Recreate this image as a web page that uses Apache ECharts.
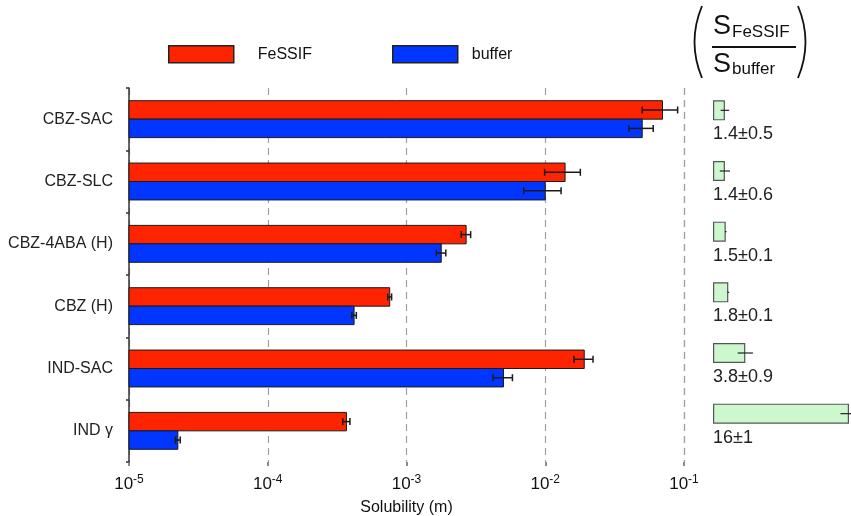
<!DOCTYPE html>
<html>
<head>
<meta charset="utf-8">
<script src="https://cdn.jsdelivr.net/npm/echarts@6/dist/echarts.min.js"></script>
<style>
  html, body { margin: 0; padding: 0; background: #fff; }
  #chart { width: 851px; height: 516px; }
</style>
</head>
<body>
<div id="chart"></div>
<script>
// Solubility of carbamazepine / indomethacin forms in FeSSIF and buffer
const categories = ['CBZ-SAC', 'CBZ-SLC', 'CBZ-4ABA (H)', 'CBZ (H)', 'IND-SAC', 'IND γ'];
const fessif     = [0.070, 0.0139, 0.00269, 0.000757, 0.0191, 0.000369];
const fessifErr  = [0.020, 0.0040, 0.00021, 0.000024, 0.0030, 0.000022];
const buffer     = [0.050, 0.0100, 0.00178, 0.000419, 0.0050, 0.0000225];
const bufferErr  = [0.010, 0.0030, 0.00014, 0.000016, 0.0008, 0.0000009];
// ratio S_FeSSIF / S_buffer
const ratio      = [1.4, 1.4, 1.5, 1.8, 3.8, 16];
const ratioErr   = [0.5, 0.6, 0.1, 0.1, 0.9, 1];
const decadeExponents = [-5, -4, -3, -2, -1];

const FONT = 'Liberation Sans, Arial, Helvetica, sans-serif';
const RED = '#ff2400';
const BLUE = '#0036ff';
const X_MIN = Math.pow(10, decadeExponents[0]);
const X_MAX = Math.pow(10, decadeExponents[decadeExponents.length - 1]);

// one bar of a pair plus its error bar; side -1 = upper bar, +1 = lower bar
function solubilityItem(side, fill) {
  return function (params, api) {
    const idx = api.value(0);
    const v = api.value(1);
    const e = api.value(2);
    const base = api.coord([X_MIN, idx]);
    const end = api.coord([v, idx]);
    const lo = api.coord([v - e, idx]);
    const hi = api.coord([v + e, idx]);
    const bw = api.size([0, 1])[1] * 0.296;
    const y0 = side < 0 ? end[1] - bw : end[1];
    const yc = y0 + bw / 2;
    const cap = 3.5;
    const errStyle = { stroke: '#1a1a1a', lineWidth: 1.5 };
    return {
      type: 'group',
      children: [
        { type: 'rect', shape: { x: base[0], y: y0, width: end[0] - base[0], height: bw },
          style: { fill: fill, stroke: '#1a1a1a', lineWidth: 1 } },
        { type: 'line', shape: { x1: lo[0], y1: yc, x2: hi[0], y2: yc }, style: errStyle },
        { type: 'line', shape: { x1: lo[0], y1: yc - cap, x2: lo[0], y2: yc + cap }, style: errStyle },
        { type: 'line', shape: { x1: hi[0], y1: yc - cap, x2: hi[0], y2: yc + cap }, style: errStyle }
      ]
    };
  };
}

function ratioErrItem(params, api) {
  const idx = api.value(0);
  const v = api.value(1);
  const e = api.value(2);
  const lo = api.coord([v - e, idx]);
  const hi = api.coord([v + e, idx]);
  return { type: 'line', shape: { x1: lo[0], y1: lo[1], x2: hi[0], y2: hi[1] },
           style: { stroke: '#222', lineWidth: 1.2 } };
}

const chart = echarts.init(document.getElementById('chart'), null, { renderer: 'canvas' });

const option = {
  animation: false,
  backgroundColor: '#fff',
  textStyle: { fontFamily: FONT },
  legend: [
    { data: ['FeSSIF'], left: 168, top: 45, padding: 0, icon: 'rect', itemWidth: 65, itemHeight: 17,
      itemStyle: { borderColor: '#222', borderWidth: 1.5 },
      textStyle: { fontFamily: FONT, fontSize: 16, color: '#111', padding: [0, 0, 0, 19] } },
    { data: ['buffer'], left: 392, top: 45, padding: 0, icon: 'rect', itemWidth: 65, itemHeight: 17,
      itemStyle: { borderColor: '#222', borderWidth: 1.5 },
      textStyle: { fontFamily: FONT, fontSize: 16, color: '#111', padding: [0, 0, 4, 9] } }
  ],
  grid: [
    { left: 129, width: 555, top: 88, height: 374, outerBoundsMode: 'none', containLabel: false },
    { left: 713, width: 136, top: 80, height: 364, outerBoundsMode: 'none', containLabel: false }
  ],
  xAxis: [
    {
      type: 'log', logBase: 10, min: X_MIN, max: X_MAX, gridIndex: 0,
      name: 'Solubility (m)', nameLocation: 'middle', nameGap: 38,
      nameTextStyle: { fontFamily: FONT, fontSize: 16, color: '#111' },
      axisLine: { lineStyle: { color: '#666', width: 2.5 } },
      axisTick: { show: true, length: 4, lineStyle: { color: '#666', width: 1.5 } },
      minorTick: { show: false },
      splitLine: { show: true, lineStyle: { color: '#a0a0a0', type: [7, 5], width: 1.2 } },
      axisLabel: {
        margin: 12,
        formatter: function (val) {
          const ex = Math.round(Math.log10(val));
          return '{b|10}{s|' + ex + '}';
        },
        rich: {
          b: { fontFamily: FONT, fontSize: 17, color: '#111' },
          s: { fontFamily: FONT, fontSize: 12, color: '#111', padding: [0, 0, 9, 0] }
        }
      }
    },
    { type: 'value', gridIndex: 1, min: 0, max: 16, show: false }
  ],
  yAxis: [
    {
      type: 'category', data: categories, inverse: true, gridIndex: 0,
      axisLine: { lineStyle: { color: '#333', width: 1.5 } },
      axisTick: { show: true, length: 3, lineStyle: { color: '#333', width: 1.5 } },
      axisLabel: { margin: 16, fontFamily: FONT, fontSize: 16, color: '#222' },
      splitLine: { show: false }
    },
    { type: 'category', data: categories, inverse: true, gridIndex: 1, show: false }
  ],
  series: [
    {
      name: 'FeSSIF', type: 'custom', xAxisIndex: 0, yAxisIndex: 0,
      itemStyle: { color: RED },
      encode: { x: 1, y: 0 },
      data: categories.map(function (c, i) { return [i, fessif[i], fessifErr[i]]; }),
      renderItem: solubilityItem(-1, RED)
    },
    {
      name: 'buffer', type: 'custom', xAxisIndex: 0, yAxisIndex: 0,
      itemStyle: { color: BLUE },
      encode: { x: 1, y: 0 },
      data: categories.map(function (c, i) { return [i, buffer[i], bufferErr[i]]; }),
      renderItem: solubilityItem(1, BLUE)
    },
    {
      name: 'ratio', type: 'bar', xAxisIndex: 1, yAxisIndex: 1,
      barWidth: 20,
      data: ratio,
      itemStyle: { color: '#cdf7cd', borderColor: '#555', borderWidth: 1.2 },
      label: {
        show: true,
        position: [0, '100%'],
        distance: 0,
        offset: [0, 5],
        align: 'left',
        verticalAlign: 'top',
        fontFamily: FONT, fontSize: 18, color: '#222',
        formatter: function (p) { return ratio[p.dataIndex] + '±' + ratioErr[p.dataIndex]; }
      }
    },
    {
      name: 'ratioErr', type: 'custom', xAxisIndex: 1, yAxisIndex: 1, clip: false,
      encode: { x: 1, y: 0 },
      data: categories.map(function (c, i) { return [i, ratio[i], ratioErr[i]]; }),
      renderItem: ratioErrItem,
      z: 5
    }
  ],
  graphic: [
    // ( S_FeSSIF / S_buffer )
    { type: 'bezierCurve', shape: { x1: 702, y1: 6, cpx1: 687, cpy1: 42, x2: 702, y2: 78 },
      style: { stroke: '#111', lineWidth: 1.8, fill: null } },
    { type: 'bezierCurve', shape: { x1: 798, y1: 6, cpx1: 813, cpy1: 42, x2: 798, y2: 78 },
      style: { stroke: '#111', lineWidth: 1.8, fill: null } },
    { type: 'text', left: 713, top: 13,
      style: { text: 'S', fontFamily: FONT, fontSize: 27, fill: '#111' } },
    { type: 'text', left: 732, top: 24,
      style: { text: 'FeSSIF', fontFamily: FONT, fontSize: 17, fill: '#111' } },
    { type: 'line', shape: { x1: 712, y1: 47, x2: 796, y2: 47 },
      style: { stroke: '#111', lineWidth: 2 } },
    { type: 'text', left: 713, top: 51,
      style: { text: 'S', fontFamily: FONT, fontSize: 27, fill: '#111' } },
    { type: 'text', left: 732, top: 61,
      style: { text: 'buffer', fontFamily: FONT, fontSize: 17, fill: '#111' } }
  ]
};

chart.setOption(option);
</script>
</body>
</html>
